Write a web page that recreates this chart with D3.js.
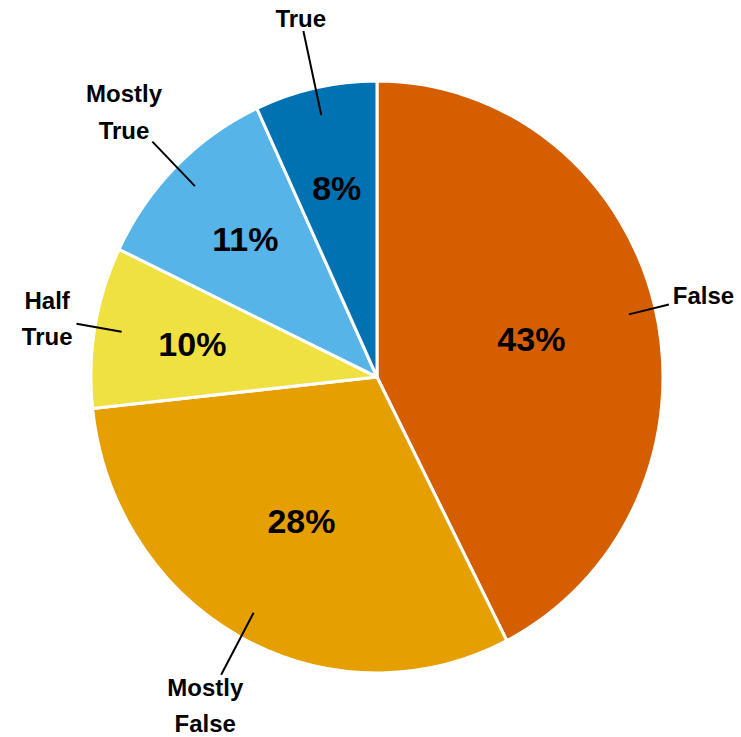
<!DOCTYPE html>
<html lang="en">
<head>
    <meta charset="utf-8">
    <title>Pie</title>
    <script src="https://d3js.org/d3.v7.min.js"></script>
    <style>
        html, body {
            margin: 0;
            padding: 0;
            background: #fff;
        }
        text {
            font-family: "Liberation Sans", Arial, Helvetica, sans-serif;
            font-weight: bold;
            fill: #000;
        }
        .slice {
            stroke: #fff;
            stroke-width: 3px;
            stroke-linejoin: round;
        }
        .leader {
            stroke: #000;
            stroke-width: 2px;
        }
    </style>
</head>
<body>
<script>

    // data, clockwise from 12 o'clock
    var categories = ["False", "Mostly False", "Half True", "Mostly True", "True"];
    var shares = [42.5, 30.8, 8.8, 11.0, 6.9];
    var shareLabels = ["43%", "28%", "10%", "11%", "8%"];
    var colors = ["#d55e00", "#e69f00", "#efe141", "#56b4e9", "#0072b2"];

    // layout
    var w = 741, h = 737;
    var cx = 377, cy = 377;
    var r = 286;            // horizontal radius
    var stretch = 296 / 286; // picture is a bit taller than wide
    var nameRadius = [1.174, 1.261, 1.170, 1.259, 1.24];
    var lineH = 36.5;

    var svg = d3.select("body").append("svg")
        .attr("width", w)
        .attr("height", h);

    var pie = d3.pie().sort(null).value(function(d) { return d; });
    var arcs = pie(shares);

    var arc = d3.arc().innerRadius(0).outerRadius(r);

    // place a point at radius k*r on the middle of a slice, in page coords
    function at(d, k) {
        var c = d3.arc().innerRadius(k * r).outerRadius(k * r).centroid(d);
        return [cx + c[0], cy + c[1] * stretch];
    }

    svg.append("g")
        .attr("transform", "translate(" + cx + "," + cy + ") scale(1," + stretch + ")")
        .selectAll("path")
        .data(arcs)
        .enter().append("path")
        .attr("class", "slice")
        .attr("d", arc)
        .attr("fill", function(d, i) { return colors[i]; });

    // percentages inside
    svg.selectAll("text.pct")
        .data(arcs)
        .enter().append("text")
        .attr("class", "pct")
        .attr("text-anchor", "middle")
        .style("font-size", "34px")
        .attr("x", function(d) { return at(d, d.data > 20 ? 0.555 : 0.655)[0]; })
        .attr("y", function(d) { return at(d, d.data > 20 ? 0.555 : 0.655)[1] + 12; })
        .text(function(d, i) { return shareLabels[i]; });

    // category names with leader lines
    var cap = 0.716 * 24;
    arcs.forEach(function(d, i) {
        var words = categories[i].split(" ");
        var t = at(d, nameRadius[i]);
        var blockH = cap + (words.length - 1) * lineH;
        var g = svg.append("text")
            .attr("text-anchor", "middle")
            .style("font-size", "24px");
        var widest = 0;
        words.forEach(function(wd, j) {
            var s = g.append("tspan")
                .attr("x", t[0])
                .attr("y", t[1] - blockH / 2 + cap + j * lineH)
                .text(wd);
            widest = Math.max(widest, s.node().getComputedTextLength());
        });

        var p = at(d, 0.906);
        var ux = p[0] - t[0], uy = p[1] - t[1];
        var len = Math.sqrt(ux * ux + uy * uy);
        ux /= len; uy /= len;
        var hw = widest / 2, hh = blockH / 2;
        var k = Math.min(hw / Math.max(Math.abs(ux), 1e-6), hh / Math.max(Math.abs(uy), 1e-6)) + 4;

        svg.append("line")
            .attr("class", "leader")
            .attr("x1", p[0]).attr("y1", p[1])
            .attr("x2", t[0] + ux * k).attr("y2", t[1] + uy * k);
    });

</script>
</body>
</html>
